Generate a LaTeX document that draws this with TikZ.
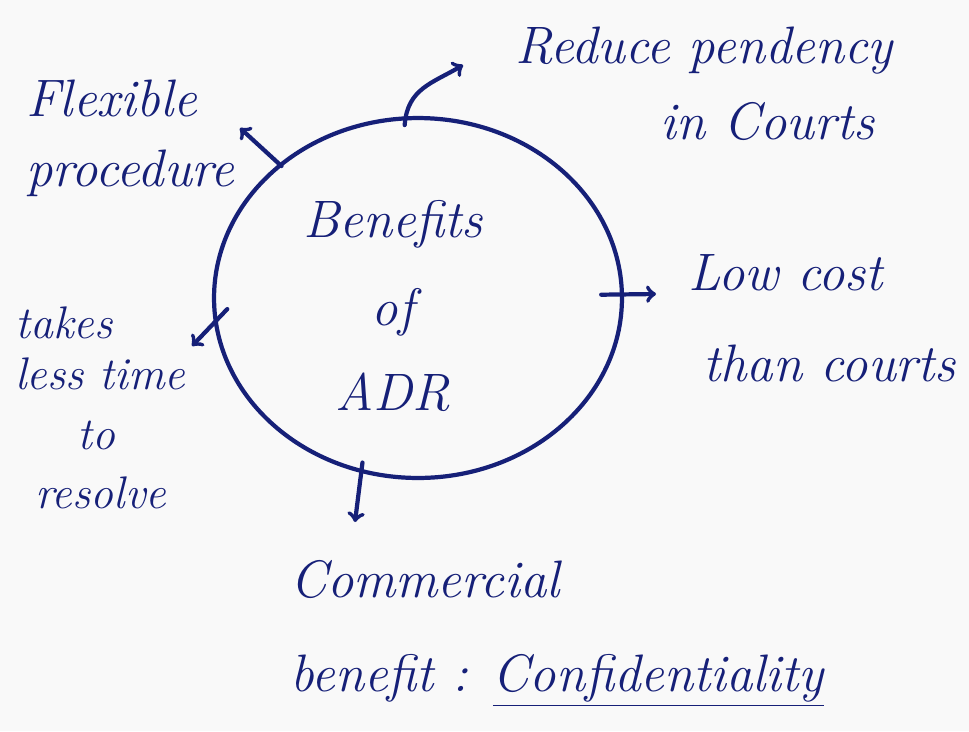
\documentclass[tikz,border=0pt]{standalone}
\usepackage{tikz}
\usetikzlibrary{shapes.geometric, arrows}
\definecolor{ink}{RGB}{22,32,120}
\definecolor{paper}{RGB}{249,249,249}
\tikzstyle{hand} = [
    text=ink,
    inner sep=0pt,
    font=\fontsize{30}{40}\selectfont\itshape
]
\tikzstyle{ring} = [
    ellipse,
    draw=ink,
    line width=2.4pt,
    inner sep=0pt,
    minimum width=8.16cm,
    minimum height=7.2cm
]
\tikzstyle{arrow} = [ink, line width=2.4pt, line cap=round, ->, >=to]

\begin{document}
\begin{tikzpicture}[x=0.02cm, y=-0.02cm]

\fill [paper] (0,0) rectangle (969,731);

\node (circ) [ring] at (418,298) {};

\node (adr) [hand, align=center] at (393,306)
{Benefits\\[10pt] of\\[8pt] ADR};

\node (flex) [hand, align=left, anchor=west] at (26,138)
{Flexible\\ procedure};

\node (pend) [hand, align=left, anchor=west] at (515,84)
{Reduce pendency\\[3pt] \hspace*{2.9cm}in Courts};

\node (cost) [hand, align=left, anchor=west] at (688,318)
{Low cost\\[12pt] \hspace*{0.3cm}than courts};

\node (time) [hand, align=left, anchor=west, font=\fontsize{26}{32}\selectfont\itshape] at (15,408)
{takes\\[-3pt] less time\\[2pt] \hspace*{1.25cm}to\\[2pt] \hspace*{0.4cm}resolve};

\node (comm) [hand, align=left, anchor=west] at (290,633)
{Commercial\\[14pt] benefit : \underline{Confidentiality}};

\coordinate (flextip) at (240,128);
\coordinate (pendtip) at (463,65);
\coordinate (costtip) at (656,294);
\coordinate (timetip) at (192,346);
\coordinate (commtip) at (355,522);

\draw [arrow, shorten <=-2pt] (circ.136) -- (flextip);
\draw [arrow, shorten <=-5pt] (circ.94) .. controls +(2,-28) and +(-30,18) .. (pendtip);
\draw [arrow, shorten <=-13pt] (circ.1) -- (costtip);
\draw [arrow, shorten <=-11pt] (circ.187) -- (timetip);
\draw [arrow, shorten <=-6pt] (circ.252) -- (commtip);

\end{tikzpicture}
\end{document}
